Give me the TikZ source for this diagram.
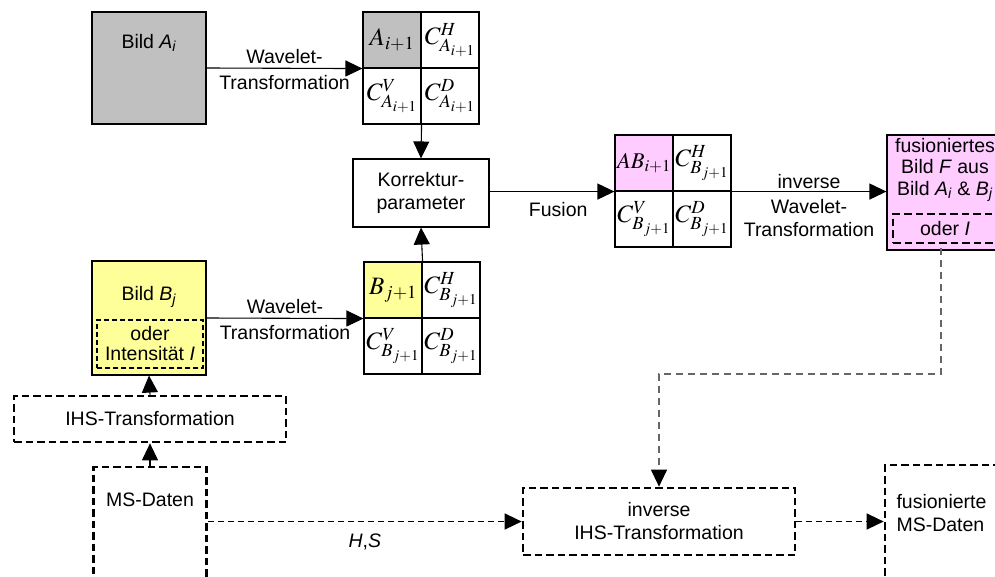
\documentclass[tikz,border=0pt]{standalone}
\usepackage{mathptmx}
\usepackage[no-math]{fontspec}
\setmainfont{Liberation Sans}
\usetikzlibrary{arrows.meta}
\usetikzlibrary{positioning}

\definecolor{bildgrau}{RGB}{192,192,192}
\definecolor{bildgelb}{RGB}{255,255,153}
\definecolor{bildrosa}{RGB}{255,204,255}

\newcommand{\diafont}{\fontsize{19.5}{23}\selectfont}
\newcommand{\subv}[2]{\textit{#1}\textsubscript{\textit{#2}}}

\tikzset{
  bild/.style={draw, line width=1.1pt, inner sep=0pt, align=center},
  zelle/.style={draw, line width=1.1pt, inner sep=0pt, minimum width=58pt, minimum height=56pt, font=\fontsize{25}{27}\selectfont},
  strichbox/.style={draw, line width=2.7pt, dash pattern=on 7.5pt off 4pt, inner sep=0pt, align=center},
  pfeil/.style={->, line width=1.1pt},
  strichpfeil/.style={->, line width=1.5pt, dash pattern=on 6pt off 4pt},
  grauweg/.style={-{Triangle[length=17pt,width=16pt,color=black]}, line width=1.2pt, draw=black!60, dash pattern=on 7pt off 5pt},
}

\begin{document}
\begin{tikzpicture}[x=1pt, y=-1pt, font=\diafont, >={Triangle[length=17pt,width=16pt]}]
\useasboundingbox (0,0) rectangle (995,576);
\clip (0,0) rectangle (995,576);

% Bild A und Zerlegung
\node[bild, fill=bildgrau, minimum width=114, minimum height=112] (bildA) at (149,68) {};
\node (bildAtxt) at (149,43) {Bild \subv{A}{i}};
\node[zelle, fill=bildgrau] (a11) at (392,40) {$A_{i+1}$};
\node[zelle] (a12) at (450,40) {$C^{H}_{A_{i+1}}$};
\node[zelle] (a21) at (392,96) {$C^{V}_{A_{i+1}}$};
\node[zelle] (a22) at (450,96) {$C^{D}_{A_{i+1}}$};

% Korrektur
\node[bild, minimum width=136, minimum height=68] (korr) at (421,193) {Korrektur-\\parameter};

% Bild B und Zerlegung
\node[bild, fill=bildgelb, minimum width=114, minimum height=114] (bildB) at (149,318) {};
\node (bildBtxt) at (149,297) {Bild \subv{B}{j}};
\node[strichbox, line width=1.9pt, dash pattern=on 5pt off 3pt, minimum width=106, minimum height=48, font=\fontsize{19.5}{20}\selectfont] (intens) at (150,344) {oder\\Intensität \textit{I}};
\node[zelle, fill=bildgelb] (b11) at (393,290) {$B_{j+1}$};
\node[zelle] (b12) at (451,290) {$C^{H}_{B_{j+1}}$};
\node[zelle] (b21) at (393,346) {$C^{V}_{B_{j+1}}$};
\node[zelle] (b22) at (451,346) {$C^{D}_{B_{j+1}}$};

% fusionierte Koeffizienten
\node[zelle, fill=bildrosa, font=\fontsize{22.5}{25}\selectfont] (ab11) at (644,163) {$AB_{i+1}$};
\node[zelle] (ab12) at (702,163) {$C^{H}_{B_{j+1}}$};
\node[zelle] (ab21) at (644,219) {$C^{V}_{B_{j+1}}$};
\node[zelle] (ab22) at (702,219) {$C^{D}_{B_{j+1}}$};

% fusioniertes Bild
\node[bild, fill=bildrosa, minimum width=116, minimum height=115] (fusbild) at (945,192.5) {};
\node[align=center, font=\fontsize{19.5}{21.5}\selectfont] (fusbildtxt) at (945,170) {fusioniertes\\Bild \textit{F} aus\\Bild \subv{A}{i} \& \subv{B}{j}};
\node[strichbox, minimum width=104, minimum height=29] (oderI) at (945,228.5) {oder \textit{I}};

% IHS-Zweig
\node[strichbox, minimum width=272, minimum height=46] (ihs) at (150,419) {IHS-Transformation};
\node[strichbox, minimum width=113, minimum height=146] (ms) at (150,540) {};
\node (mstxt) at (150,500) {MS-Daten};
\node[strichbox, minimum width=272, minimum height=67] (invihs) at (659,521.5) {inverse\\IHS-Transformation};
\node[strichbox, minimum width=120, minimum height=140] (fusms) at (945,535) {};
\node[anchor=west, align=left] (fusmstxt) at (893,513) {fusionierte\\MS-Daten};

% Verbindungen
\draw[pfeil] (bildA.east) -- (a11.south west)
  node[midway, above=1pt] (wlA1) {Wavelet-}
  node[midway, below=3pt] (wlA2) {Transformation};
\draw[pfeil] (bildB.east) -- (b11.south west)
  node[midway, above=1pt] (wlB1) {Wavelet-}
  node[midway, below=3pt] (wlB2) {Transformation};
\draw[pfeil] (a21.south east) -- (korr.north);
\draw[pfeil] (b11.north east) -- (korr.south);
\draw[pfeil] (korr.east |- ab11.south west) -- (ab11.south west)
  node[pos=0.55, below=7pt] (fus) {Fusion};
\draw[pfeil] (ab12.south east) -- (fusbild.west |- ab12.south east)
  node[midway, above=-1pt] (inv1) {inverse}
  node[midway, below=4pt, align=center] (inv2) {Wavelet-\\Transformation};
\draw[pfeil] (ihs.north) -- (bildB.south);
\draw[pfeil] (ms.north) -- (ihs.south);
\draw[strichpfeil] (ms.east |- invihs.west) -- (invihs.west)
  node[midway, below=8pt] (hs) {\textit{H},\textit{S}};
\draw[strichpfeil] (invihs.east) -- (fusms.west |- invihs.east);
\draw[grauweg] (941,248) -- ++(0,126) -| (invihs.north);
\end{tikzpicture}
\end{document}
